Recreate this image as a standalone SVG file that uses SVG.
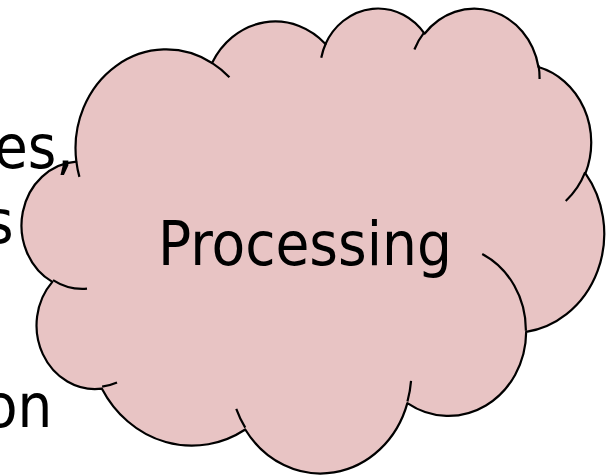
<svg xmlns="http://www.w3.org/2000/svg" width="609" height="476" viewBox="0 0 609 476">
  <style>
    .lbl { font-family: "DejaVu Sans Condensed", "DejaVu Sans", sans-serif; font-size: 61px; fill: #000000; }
    .cloud { fill: #E8C4C4; stroke: #000000; stroke-width: 2.2; stroke-linejoin: round; }
    .tail { fill: none; stroke: #000000; stroke-width: 2.2; stroke-linecap: butt; }
  </style>
  <rect x="0" y="0" width="609" height="476" fill="#FFFFFF"/>
  <g id="processing">
    <path class="cloud" d="M76.36,161.62 A90.67,98.88 0 0 1 212.03,62.97 A71.60,78.19 0 0 1 325.49,43.92 A58.61,63.97 0 0 1 424.55,33.70 A65.21,70.96 0 0 1 538.46,67.01 A71.60,78.26 0 0 1 585.45,173.35 A90.96,99.21 0 0 1 526.17,331.96 A77.67,84.65 0 0 1 407.36,403.09 A90.65,99.15 0 0 1 245.25,429.48 A103.65,113.44 0 0 1 101.91,388.66 A58.54,63.68 0 0 1 52.34,281.90 A58.34,63.97 0 0 1 76.36,161.62 Z"/>
    <path class="tail" d="M87.01,288.66 A58.34,63.97 0 0 1 53.00,280.09 M117.02,382.51 A58.54,63.68 0 0 1 102.13,386.62 M245.24,427.61 A90.65,99.15 0 0 1 236.27,408.86 M411.04,380.92 A90.65,99.15 0 0 1 407.45,401.46 M482.22,253.99 A77.67,84.65 0 0 1 525.88,330.77 M585.18,172.21 A71.60,78.26 0 0 1 565.74,201.00 M538.54,65.38 A65.21,70.96 0 0 1 539.56,78.98 M414.40,49.52 A65.21,70.96 0 0 1 424.38,32.17 M321.26,57.79 A58.61,63.97 0 0 1 326.09,42.83 M211.96,62.87 A90.67,98.88 0 0 1 229.42,77.37 M79.41,176.89 A90.67,98.88 0 0 1 76.37,161.63"/>
    <text class="lbl" x="158" y="265" textLength="294" lengthAdjust="spacingAndGlyphs">Processing</text>
  </g>
  <g id="side-text">
    <text class="lbl" x="-6" y="168">es,</text>
    <text class="lbl" x="-15" y="243">s</text>
    <text class="lbl" x="-16" y="427">on</text>
  </g>
</svg>
